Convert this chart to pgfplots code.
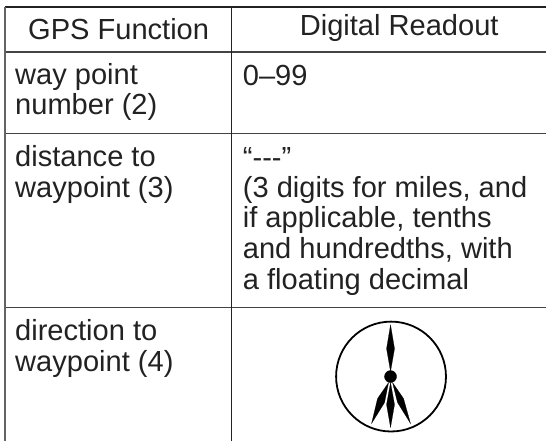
\documentclass[border=0pt]{standalone}
\usepackage{pgfplots}
\pgfplotsset{compat=1.18}
\usepackage{fontspec}
\setmainfont{Liberation Sans}
\definecolor{ink}{HTML}{222222}
\begin{document}
\begin{tikzpicture}[T/.style={font=\fontsize{29.1bp}{30bp}\selectfont, text=ink, inner sep=0pt, anchor=base west}]
\begin{axis}[
  scale only axis, width=547bp, height=443bp,
  xmin=0, xmax=547, ymin=0, ymax=443, y dir=reverse,
  axis lines=none, clip=false,
  ticks=none
]
% rules
\addplot[ink, line width=1.3bp] coordinates {(5,7) (547,7)};
\addplot[ink!85, line width=1.3bp] coordinates {(5,52) (547,52)};
\addplot[ink!85, line width=1.3bp] coordinates {(5,134) (547,134)};
\addplot[ink!85, line width=1.3bp] coordinates {(5,308) (547,308)};
\addplot[ink!70, line width=1.4bp] coordinates {(5,7) (5,442)};
\addplot[ink, line width=1.2bp] coordinates {(232,7) (232,442)};
% text
\node[T] at (axis cs:28,40) {GPS Function};
\node[T] at (axis cs:300,36) {Digital Readout};
\node[T] at (axis cs:15,85) {way point};
\node[T] at (axis cs:15,115) {number (2)};
\node[T] at (axis cs:243,86) {0–99};
\node[T] at (axis cs:15,167) {distance to};
\node[T] at (axis cs:15,198) {waypoint (3)};
\node[T] at (axis cs:243,168) {“-{}-{}-”};
\node[T] at (axis cs:243,198) {(3 digits for miles, and};
\node[T] at (axis cs:243,228) {if applicable, tenths};
\node[T] at (axis cs:243,259) {and hundredths, with};
\node[T] at (axis cs:243,290) {a floating decimal};
\node[T] at (axis cs:15,341) {direction to};
\node[T] at (axis cs:15,372) {waypoint (4)};
% compass
\draw[black, line width=1.8bp] (axis cs:391.5,377) circle [radius=55];
\addplot[black, fill=black, line width=0.2bp] coordinates {(391,325) (395,349) (391,372) (387,349) (391,325)};
\addplot[black, fill=black, line width=0.2bp] coordinates {(391,383) (395,405) (391,428) (387,405) (391,383)};
\addplot[black, fill=black, line width=0.2bp] coordinates {(389,383) (385,403) (372,424) (378,399) (389,383)};
\addplot[black, fill=black, line width=0.2bp] coordinates {(393,383) (404,399) (411,424) (398,403) (393,383)};
\addplot[black, only marks, mark=*, mark size=6bp] coordinates {(391,377)};
\end{axis}
\useasboundingbox (0,0) rectangle (547bp,443bp);
\end{tikzpicture}
\end{document}
